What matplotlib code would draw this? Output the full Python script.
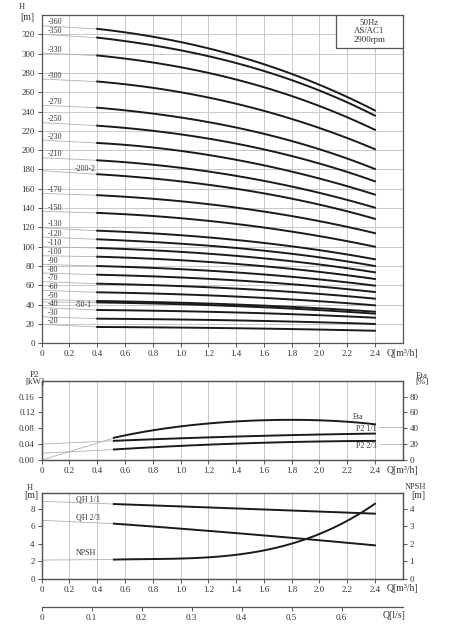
import numpy as np
import matplotlib
matplotlib.use('Agg')
from matplotlib import pyplot as plt
from matplotlib.patches import Rectangle

plt.rcParams['font.family'] = ['Liberation Serif', 'DejaVu Serif']
plt.rcParams['font.size'] = 6

# ---- QH curves (top panel) ----
q_pts = [0.4, 0.8, 1.2, 1.6, 2.0, 2.4]
models = ['-360', '-350', '-330', '-300', '-270', '-250', '-230', '-210', '-200-2',
          '-170', '-150', '-130', '-120', '-110', '-100', '-90', '-80', '-70',
          '-60', '-50', '-50-1', '-40', '-30', '-20']
h_zero = [329, 320, 300.5, 273.7, 246.5, 228.5, 210.5, 192.2, 178.7,
          155.3, 136.7, 119.7, 110, 100, 90.7, 81.8, 72.8, 63.8,
          54.9, 45.5, 42.8, 36.9, 27.5, 19.7]
h_curves = [
    [325.5, 318, 305, 289, 268, 241],
    [316.5, 309, 297, 282, 262, 235.7],
    [298, 291, 280, 265, 246, 221],
    [271, 265, 254, 241, 223, 201],
    [244, 238, 229, 217, 201, 180.5],
    [225.4, 220, 212, 201, 186, 167.8],
    [207.4, 203, 195, 184, 171, 153.9],
    [189.5, 185, 178, 168, 156, 140.4],
    [175, 171, 164, 155, 144, 128.8],
    [153.3, 150, 144, 136, 127, 113.9],
    [135, 132, 126.6, 120, 111, 100],
    [116.6, 114, 109.5, 104, 96.5, 87],
    [107.7, 105, 101, 96, 89, 80],
    [98.7, 96.4, 92.7, 88, 81.6, 73.5],
    [89.7, 87.6, 84.2, 79.8, 74, 66.6],
    [80, 78.2, 75.1, 71.3, 66.2, 59.7],
    [71, 69.4, 66.7, 63.3, 58.8, 53.1],
    [61.7, 60.3, 58, 55, 51.2, 46.2],
    [52.8, 51.6, 49.6, 47, 43.6, 39.3],
    [43.8, 42.8, 41.1, 39, 36.3, 32.7],
    [42.3, 41.3, 39.5, 37.3, 34.4, 30.7],
    [34.5, 33.8, 32.6, 31.1, 29.1, 26.5],
    [25.5, 25, 24.2, 23.1, 21.8, 20],
    [16.9, 16.5, 16, 15.2, 14.2, 13],
]

# ---- power / efficiency (middle panel) ----
eta_q = [0.52, 0.6, 0.8, 1.0, 1.2, 1.4, 1.6, 1.8, 2.0, 2.2, 2.4]
eta_v = [27.7, 31.5, 37.4, 42.1, 46.0, 48.9, 50.0, 50.6, 50.2, 48.1, 45.1]
p2_q = [0.52, 1.0, 1.4, 2.0, 2.4]
p2_full = [0.0485, 0.0545, 0.0590, 0.0647, 0.0664]
p2_23 = [0.0264, 0.0357, 0.0417, 0.0460, 0.0485]
eta_zero, p2_full_zero, p2_23_zero = 0.0, 0.040, 0.017

# ---- QH 1/1, QH 2/3, NPSH (bottom panel) ----
qh_q = [0.52, 1.0, 1.4, 2.0, 2.4]
qh_full = [8.57, 8.29, 8.06, 7.71, 7.46]
qh_23 = [6.32, 5.74, 5.24, 4.40, 3.83]
npsh_q = [0.52, 0.8, 1.0, 1.2, 1.4, 1.6, 1.8, 2.0, 2.2, 2.4]
npsh_v = [1.10, 1.12, 1.15, 1.24, 1.38, 1.62, 2.0, 2.55, 3.35, 4.29]
qh_full_zero, qh_23_zero, npsh_zero = 8.88, 6.7, 1.07

x_ticks = [0, 0.2, 0.4, 0.6, 0.8, 1.0, 1.2, 1.4, 1.6, 1.8, 2.0, 2.2, 2.4]
x_labels = ['0', '0.2', '0.4', '0.6', '0.8', '1.0', '1.2', '1.4', '1.6', '1.8', '2.0', '2.2', '2.4']

DARK = '#1a1a1a'
THIN = '#b0b0b0'
GRID = '#c8c8c8'
SPINE = '#555555'
TXT = '#333333'
TICK_FS = 6.5


def smooth(ax, q, v, deg=3, **kw):
    qq = np.linspace(q[0], q[-1], 80)
    ax.plot(qq, np.polyval(np.polyfit(q, v, deg), qq), **kw)


def style(ax):
    for s in ax.spines.values():
        s.set_color(SPINE)
        s.set_linewidth(0.9)
    ax.tick_params(direction='out', length=3, width=0.7, color=SPINE,
                   labelcolor=TXT, labelsize=TICK_FS, pad=2)
    ax.set_xlim(0, 2.6)
    ax.set_xticks(x_ticks)
    ax.set_xticklabels(x_labels)
    ax.annotate('Q[m³/h]', xy=(2.6, 0), xycoords=('data', 'axes fraction'),
                xytext=(0, -4), textcoords='offset points', ha='center', va='top',
                fontsize=7, color=TXT)


def fx(px):
    return px / 452


def fy(py):
    return 1 - py / 631


fig = plt.figure(figsize=(4.52, 6.31), dpi=100)
fig.patch.set_facecolor('white')

# ---------------- top ----------------
ax = fig.add_axes([fx(41.7), fy(343.3), fx(361), 328.3 / 631])
style(ax)
ax.set_ylim(0, 340)
ax.set_yticks(range(0, 321, 20))
ax.grid(True, color=GRID, lw=0.7)
ax.set_axisbelow(True)

special_pos = {'-200-2': (0.24, 180), '-50-1': (0.24, 40)}
for name, h0, hs in zip(models, h_zero, h_curves):
    ax.plot([0, q_pts[0]], [h0, hs[0]], color=THIN, lw=0.6, zorder=2)
    smooth(ax, q_pts, hs, color=DARK, lw=1.4, zorder=3)
    if name in special_pos:
        tx, ty = special_pos[name]
    else:
        tx, ty = 0.04, h0 + 3.5
    ax.text(tx, ty, name, fontsize=5.8, color=TXT, va='center', ha='left', zorder=4)

ax.add_patch(Rectangle((2.12, 305.5), 0.48, 34.5, facecolor='white',
                       edgecolor=SPINE, lw=0.9, zorder=5))
ax.text(2.36, 323, '50Hz\nAS/AC1\n2900rpm', ha='center', va='center',
        fontsize=6.3, color=TXT, linespacing=1.05, zorder=6)

fig.text(fx(22), fy(7), 'H', ha='center', va='center', fontsize=6, color=TXT)
fig.text(fx(27), fy(18), '[m]', ha='center', va='center', fontsize=7, color=TXT)

# ---------------- middle ----------------
ax2 = fig.add_axes([fx(41.7), fy(460), fx(361), 79.3 / 631])
style(ax2)
ax2.set_ylim(0, 0.2)
ax2.set_yticks([0, 0.04, 0.08, 0.12, 0.16])
ax2.set_yticklabels(['0.00', '0.04', '0.08', '0.12', '0.16'])
ax2.grid(True, axis='x', color=GRID, lw=0.7)
ax2.set_axisbelow(True)
ax2r = ax2.twinx()
ax2r.set_ylim(0, 100)
ax2r.set_yticks([0, 20, 40, 60, 80])
ax2r.tick_params(direction='out', length=3, width=0.7, color=SPINE,
                 labelcolor=TXT, labelsize=TICK_FS, pad=2)
for s in ax2r.spines.values():
    s.set_color(SPINE)
    s.set_linewidth(0.9)

ax2r.plot([0, eta_q[0]], [eta_zero, eta_v[0]], color=THIN, lw=0.6)
smooth(ax2r, eta_q, eta_v, deg=4, color=DARK, lw=1.4)
ax2.plot([0, p2_q[0]], [p2_full_zero, p2_full[0]], color=THIN, lw=0.6)
ax2.plot([0, p2_q[0]], [p2_23_zero, p2_23[0]], color=THIN, lw=0.6)
smooth(ax2, p2_q, p2_full, deg=2, color=DARK, lw=1.4)
smooth(ax2, p2_q, p2_23, deg=2, color=DARK, lw=1.4)
ax2.text(2.28, 0.108, 'Eta', ha='center', va='center', fontsize=5.8, color=TXT)
ax2.text(2.34, 0.077, 'P2 1/1', ha='center', va='center', fontsize=5.8, color=TXT)
ax2.text(2.34, 0.035, 'P2 2/3', ha='center', va='center', fontsize=5.8, color=TXT)
ax2.plot([2.43, 2.6], [0.083, 0.083], color=THIN, lw=0.6)
ax2.plot([2.44, 2.6], [0.040, 0.040], color=THIN, lw=0.6)

fig.text(fx(34), fy(375), 'P2', ha='center', va='center', fontsize=6.5, color=TXT)
fig.text(fx(35), fy(382), '[kW]', ha='center', va='center', fontsize=6.5, color=TXT)
fig.text(fx(422), fy(375.5), 'Eta', ha='center', va='center', fontsize=6.5, color=TXT)
fig.text(fx(422), fy(382), '[%]', ha='center', va='center', fontsize=6.5, color=TXT)

# ---------------- bottom ----------------
ax3 = fig.add_axes([fx(41.7), fy(578.7), fx(361), 85.4 / 631])
style(ax3)
ax3.set_ylim(0, 9.8)
ax3.set_yticks([0, 2, 4, 6, 8])
ax3.grid(True, axis='x', color=GRID, lw=0.7)
ax3.set_axisbelow(True)
ax3r = ax3.twinx()
ax3r.set_ylim(0, 4.9)
ax3r.set_yticks([0, 1, 2, 3, 4])
ax3r.tick_params(direction='out', length=3, width=0.7, color=SPINE,
                 labelcolor=TXT, labelsize=TICK_FS, pad=2)
for s in ax3r.spines.values():
    s.set_color(SPINE)
    s.set_linewidth(0.9)

ax3.plot([0, qh_q[0]], [qh_full_zero, qh_full[0]], color=THIN, lw=0.6)
ax3.plot([0, qh_q[0]], [qh_23_zero, qh_23[0]], color=THIN, lw=0.6)
ax3r.plot([0, npsh_q[0]], [npsh_zero, npsh_v[0]], color=THIN, lw=0.6)
smooth(ax3, qh_q, qh_full, deg=2, color=DARK, lw=1.4)
smooth(ax3, qh_q, qh_23, deg=2, color=DARK, lw=1.4)
smooth(ax3r, npsh_q, npsh_v, deg=4, color=DARK, lw=1.4)
ax3.text(0.33, 9.1, 'QH 1/1', ha='center', va='center', fontsize=5.8, color=TXT)
ax3.text(0.33, 7.0, 'QH 2/3', ha='center', va='center', fontsize=5.8, color=TXT)
ax3.text(0.32, 3.0, 'NPSH', ha='center', va='center', fontsize=5.8, color=TXT)

fig.text(fx(30), fy(487.5), 'H', ha='center', va='center', fontsize=6, color=TXT)
fig.text(fx(31.5), fy(495), '[m]', ha='center', va='center', fontsize=7, color=TXT)
fig.text(fx(415), fy(487), 'NPSH', ha='center', va='center', fontsize=6, color=TXT)
fig.text(fx(418), fy(495), '[m]', ha='center', va='center', fontsize=7, color=TXT)

# ---------------- Q in l/s ----------------
ax4 = fig.add_axes([fx(41.7), fy(606.7), fx(361), 0.0005])
ax4.set_xlim(0, 2.6 / 3.6)
ax4.set_yticks([])
for k in ['top', 'left', 'right']:
    ax4.spines[k].set_visible(False)
ax4.spines['bottom'].set_color(SPINE)
ax4.spines['bottom'].set_linewidth(0.9)
ax4.set_xticks([0, 0.1, 0.2, 0.3, 0.4, 0.5, 0.6])
ax4.set_xticklabels(['0', '0.1', '0.2', '0.3', '0.4', '0.5', '0.6'])
ax4.tick_params(direction='out', length=3, width=0.7, color=SPINE,
                labelcolor=TXT, labelsize=TICK_FS, pad=2)
fig.text(fx(394), fy(615.5), 'Q[l/s]', ha='center', va='center', fontsize=7, color=TXT)

fig.savefig('out.png', dpi=100, facecolor='white')
